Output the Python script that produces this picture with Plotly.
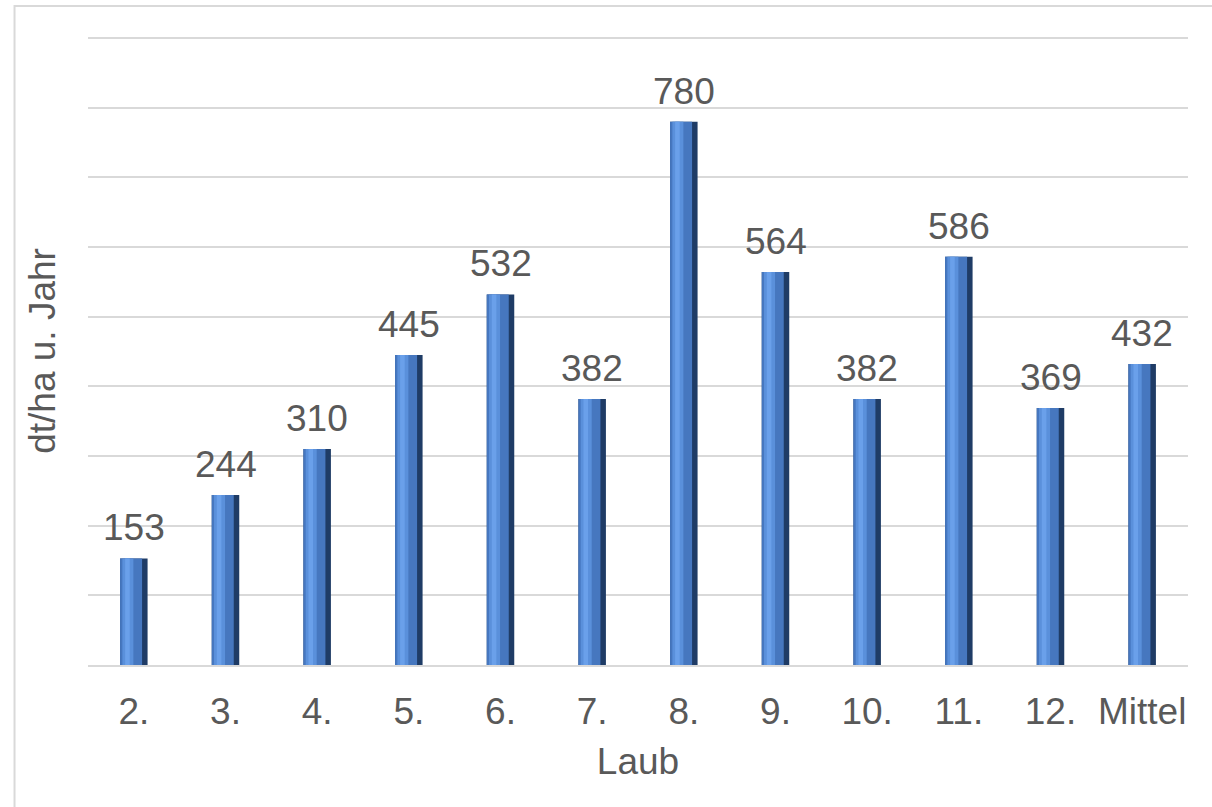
import plotly.graph_objects as go

categories = ["2.", "3.", "4.", "5.", "6.", "7.", "8.", "9.", "10.", "11.", "12.", "Mittel"]
values = [153, 244, 310, 445, 532, 382, 780, 564, 382, 586, 369, 432]

FONT = "Liberation Sans, Arial, sans-serif"
TEXT = "#595959"

fig = go.Figure()

# bevelled column look: dark body, mid-blue face, light highlight strip
layers = [
    (0.30, -0.150, "#1f3c66"),
    (0.24, -0.150, "#4677bf"),
    (0.12, -0.125, "#5a90db"),
    (0.05, -0.095, "#6aa0ea"),
]
for w, off, col in layers:
    fig.add_trace(go.Bar(
        x=categories, y=values, width=w, offset=off,
        marker=dict(color=col, line=dict(width=0)),
        hoverinfo="skip", showlegend=False,
    ))

# value labels above each column (x given as category index)
for i, v in enumerate(values):
    fig.add_annotation(
        x=i, y=v, text=str(v), showarrow=False,
        yanchor="bottom", yshift=8,
        font=dict(family=FONT, size=37, color=TEXT),
    )

# outer frame of the chart
fig.add_shape(type="rect", xref="paper", yref="paper",
              x0=-0.0668, x1=1.05, y0=-0.30, y1=1.0495,
              line=dict(color="#d9d9d9", width=2), fillcolor="rgba(0,0,0,0)",
              layer="below")

fig.update_layout(
    width=1212, height=807,
    margin=dict(l=88, r=24, t=37, b=142),
    paper_bgcolor="white", plot_bgcolor="white",
    barmode="overlay",
    font=dict(family=FONT, color=TEXT),
    xaxis=dict(
        type="category", range=[-0.5, len(categories) - 0.5],
        title=dict(text="Laub", font=dict(family=FONT, size=37, color=TEXT), standoff=17),
        tickfont=dict(family=FONT, size=37, color=TEXT),
        ticks="outside", ticklen=13, tickcolor="rgba(0,0,0,0)",
        showline=True, linecolor="#d9d9d9", linewidth=2,
        showgrid=False, fixedrange=True,
    ),
    yaxis=dict(
        title=dict(text="dt/ha u. Jahr", font=dict(family=FONT, size=37, color=TEXT), standoff=20),
        range=[0, 901.5], tick0=0, dtick=100,
        showticklabels=False, ticks="",
        showgrid=True, gridcolor="#d9d9d9", gridwidth=2,
        zeroline=False, showline=False, fixedrange=True,
    ),
)

fig.write_html("out.html")
